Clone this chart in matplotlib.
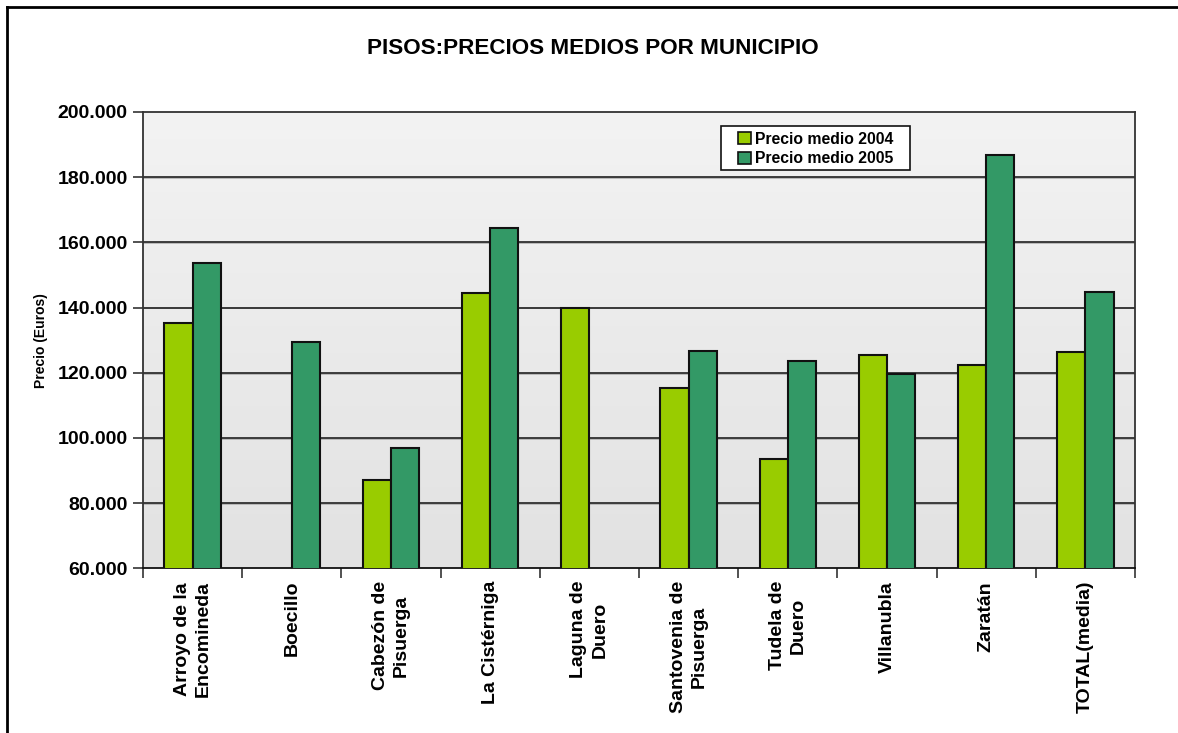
import numpy as np
import matplotlib
matplotlib.use("Agg")
import matplotlib.pyplot as plt
from matplotlib.lines import Line2D
from matplotlib.patches import Patch, Rectangle
from matplotlib.ticker import FuncFormatter, FixedLocator

categories = ["Arroyo de la\nEncomineda", "Boecillo", "Cabezón de\nPisuerga",
              "La Cistérniga", "Laguna de\nDuero", "Santovenia de\nPisuerga",
              "Tudela de\nDuero", "Villanubla", "Zaratán", "TOTAL(media)"]
precio_2004 = [135400, np.nan, 87200, 144400, 139800, 115200, 93700, 125500, 122500, 126400]
precio_2005 = [153600, 129300, 96900, 164500, np.nan, 126700, 123700, 119700, 186800, 144700]
y_ticks = [60000, 80000, 100000, 120000, 140000, 160000, 180000, 200000]

plt.rcParams['font.family'] = ['Liberation Sans', 'DejaVu Sans']

W, H = 1178, 733
fig = plt.figure(figsize=(W/100, H/100), dpi=100)
ax = fig.add_axes([143/W, 1-568.4/H, (1135-143)/W, (568.4-112)/H])

n = len(categories)
x = np.arange(n)
w = 0.285

# gradient background: lighter at top, darker at bottom
grad = np.linspace(0, 1, 256).reshape(-1, 1)
cmap = matplotlib.colors.LinearSegmentedColormap.from_list("bg", ["#f3f3f3", "#e2e2e2"])
ax.imshow(grad, aspect='auto', cmap=cmap, extent=[-0.5, n-0.5, 60000, 200000],
          origin='upper', zorder=0)
ax.set_autoscale_on(False)

for yt in y_ticks[1:-1]:
    ax.axhline(yt - 250, color='#b0b0b0', lw=1.2, zorder=1)
    ax.axhline(yt, color='#303030', lw=1.3, zorder=1.1)

ax.bar(x - w/2, precio_2004, w, color='#99cc00', edgecolor='#111111', lw=1.5, zorder=3,
       label='Precio medio 2004')
ax.bar(x + w/2, precio_2005, w, color='#339966', edgecolor='#111111', lw=1.5, zorder=3,
       label='Precio medio 2005')

ax.set_xlim(-0.5, n - 0.5)
ax.set_ylim(60000, 200000)
ax.set_yticks(y_ticks)
ax.yaxis.set_major_formatter(FuncFormatter(lambda v, p: f"{int(v):,}".replace(",", ".")))
ax.tick_params(axis='y', direction='out', length=7, width=1.2, color='#333333',
               labelsize=14, pad=4)
for lab in ax.get_yticklabels():
    lab.set_fontweight('bold')

ax.set_xticks(x)
ax.set_xticklabels(categories, rotation=90, fontsize=14, fontweight='bold',
                   ha='center', va='top', multialignment='center', linespacing=1.3)
ax.tick_params(axis='x', which='major', length=0, pad=9)
ax.xaxis.set_minor_locator(FixedLocator(np.arange(-0.5, n, 1.0)))
ax.tick_params(axis='x', which='minor', direction='out', length=7, width=1.2, color='#333333')

for s in ['left', 'bottom', 'top', 'right']:
    ax.spines[s].set_linewidth(1.3)
    ax.spines[s].set_color('#333333')
ax.spines['bottom'].set_color('#111111')

ax.set_ylabel("Precio (Euros)", fontsize=10, fontweight='bold')
ax.yaxis.set_label_coords((48-143)/992, 0.5)

# legend frame drawn separately (pixel-placed box)
axw, axh = 992, 456.4
box = Rectangle(((721-143)/axw, 1-(170-112)/axh), (910-721)/axw, (170-126)/axh,
                transform=ax.transAxes, facecolor='white', edgecolor='#111111',
                lw=1.2, zorder=5)
ax.add_patch(box)
leg = ax.legend(handles=[Patch(facecolor='#99cc00', edgecolor='#111111', lw=1.2, label='Precio medio 2004'),
                         Patch(facecolor='#339966', edgecolor='#111111', lw=1.2, label='Precio medio 2005')],
                loc='upper left', bbox_to_anchor=((738-143)/axw, 1-(131.5-112)/axh),
                prop={'weight': 'bold', 'size': 11.3},
                frameon=False, handlelength=0.85, handleheight=0.85, handletextpad=0.25,
                borderpad=0, borderaxespad=0, labelspacing=0.3)
leg.set_zorder(6)

fig.text(593/W, 1-48/H, "PISOS:PRECIOS MEDIOS POR MUNICIPIO", ha='center', va='center',
         fontsize=16.2, fontweight='bold')

# outer frame (left and top)
fig.add_artist(Line2D([7/W, 7/W], [0, 1-7/H], transform=fig.transFigure, color='black', lw=2))
fig.add_artist(Line2D([7/W, 1], [1-7/H, 1-7/H], transform=fig.transFigure, color='black', lw=2))

fig.savefig("out.png", dpi=100, facecolor='white')
